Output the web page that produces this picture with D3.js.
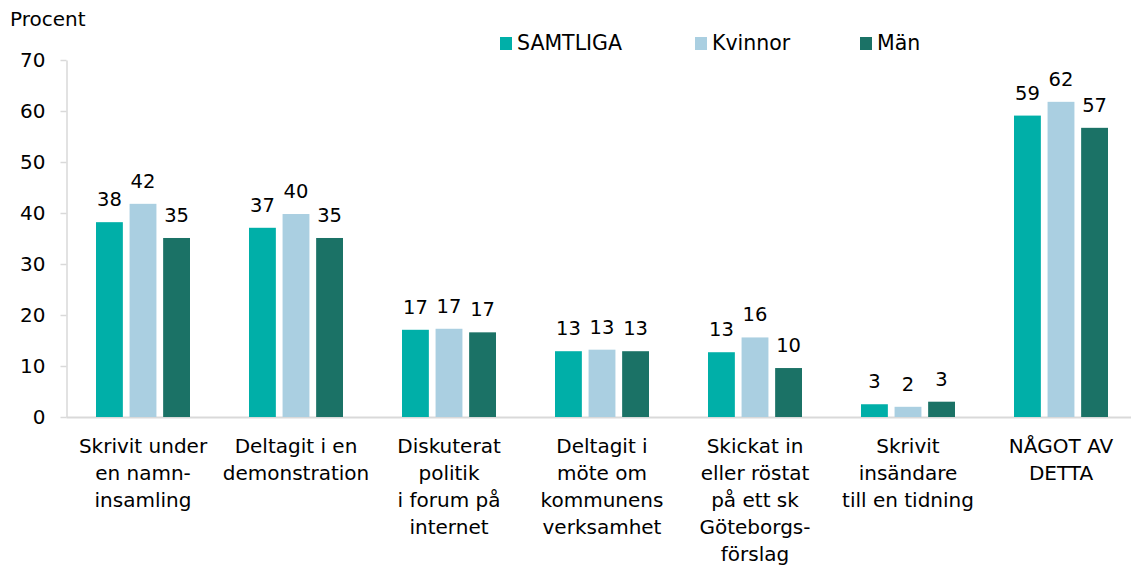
<!DOCTYPE html>
<html>
<head>
<meta charset="utf-8">
<script src="https://cdn.jsdelivr.net/npm/d3@7"></script>
<style>
  body { margin: 0; background: #fff; }
  text { font-family: "DejaVu Sans", sans-serif; fill: #000; }
</style>
</head>
<body>
<script>
const w = 1131;
const h = 566;

// data
const categories = [
  ["Skrivit under", "en namn-", "insamling"],
  ["Deltagit i en", "demonstration"],
  ["Diskuterat", "politik", "i forum på", "internet"],
  ["Deltagit i", "möte om", "kommunens", "verksamhet"],
  ["Skickat in", "eller röstat", "på ett sk", "Göteborgs-", "förslag"],
  ["Skrivit", "insändare", "till en tidning"],
  ["NÅGOT AV", "DETTA"]
];
const seriesNames = ["SAMTLIGA", "Kvinnor", "Män"];
const seriesColors = ["#00AFA8", "#AACFE1", "#1B7266"];
const samtliga = [38.2, 37.1, 17.1, 12.9, 12.7, 2.5, 59.1];
const kvinnor = [41.8, 39.8, 17.3, 13.2, 15.6, 2.0, 61.8];
const man = [35.1, 35.1, 16.6, 12.9, 9.6, 3.0, 56.7];
const yTicks = [0, 10, 20, 30, 40, 50, 60, 70];

const values = [samtliga, kvinnor, man];
const catKeys = categories.map((c, i) => i);

const svg = d3.select("body").append("svg")
  .attr("width", w)
  .attr("height", h);

const x0 = d3.scaleBand().domain(catKeys).range([66.5, 66.5 + 7 * 153]);
const x1 = d3.scaleBand().domain(seriesNames).range([29.5, 123.5]).paddingInner(0.2);
const y = d3.scaleLinear().domain([0, 70]).range([417, 60]);

// y axis
const yAxis = svg.append("g")
  .attr("transform", "translate(66.5,0)")
  .call(d3.axisLeft(y).tickValues(yTicks).tickSize(6).tickSizeOuter(0).tickPadding(15));
yAxis.selectAll("path, line").attr("stroke", "#d9d9d9").attr("stroke-width", 1.5);
yAxis.selectAll("text")
  .style("font-size", "20px")
  .style("font-family", "DejaVu Sans, sans-serif")
  .attr("fill", "#000");

// x axis line
svg.append("line")
  .attr("x1", 66.5).attr("x2", w)
  .attr("y1", y(0) + 0.5).attr("y2", y(0) + 0.5)
  .attr("stroke", "#d9d9d9").attr("stroke-width", 2);

// bars
const groups = svg.selectAll(".grp")
  .data(catKeys)
  .enter().append("g")
  .attr("class", "grp")
  .attr("transform", d => "translate(" + x0(d) + ",0)");

groups.selectAll("rect")
  .data(i => seriesNames.map((s, j) => ({ s: s, j: j, v: values[j][i] })))
  .enter().append("rect")
  .attr("x", d => x1(d.s))
  .attr("width", x1.bandwidth())
  .attr("y", d => y(d.v))
  .attr("height", d => y(0) - y(d.v))
  .attr("fill", d => seriesColors[d.j]);

groups.selectAll(".val")
  .data(i => seriesNames.map((s, j) => ({ s: s, j: j, v: values[j][i] })))
  .enter().append("text")
  .attr("class", "val")
  .attr("x", d => x1(d.s) + x1.bandwidth() / 2)
  .attr("y", d => y(d.v) - 16)
  .attr("text-anchor", "middle")
  .style("font-size", "19.5px")
  .text(d => Math.round(d.v));

// category labels
svg.selectAll(".cat")
  .data(catKeys)
  .enter().append("text")
  .attr("class", "cat")
  .attr("text-anchor", "middle")
  .style("font-size", "20px")
  .each(function (i) {
    const t = d3.select(this);
    categories[i].forEach((line, k) => {
      t.append("tspan")
        .attr("x", x0(i) + x0.bandwidth() / 2)
        .attr("y", 453 + k * 27)
        .text(line);
    });
  });

// legend
const legendX = [500, 695, 860];
const legend = svg.selectAll(".leg")
  .data(seriesNames)
  .enter().append("g")
  .attr("class", "leg")
  .attr("transform", (d, i) => "translate(" + legendX[i] + ",37)");
legend.append("rect")
  .attr("width", 12).attr("height", 13)
  .attr("fill", (d, i) => seriesColors[i]);
legend.append("text")
  .attr("x", 17).attr("y", 13)
  .style("font-size", "20.5px")
  .text(d => d);

// y title
svg.append("text")
  .attr("x", 10).attr("y", 26)
  .style("font-size", "20px")
  .text("Procent");
</script>
</body>
</html>
